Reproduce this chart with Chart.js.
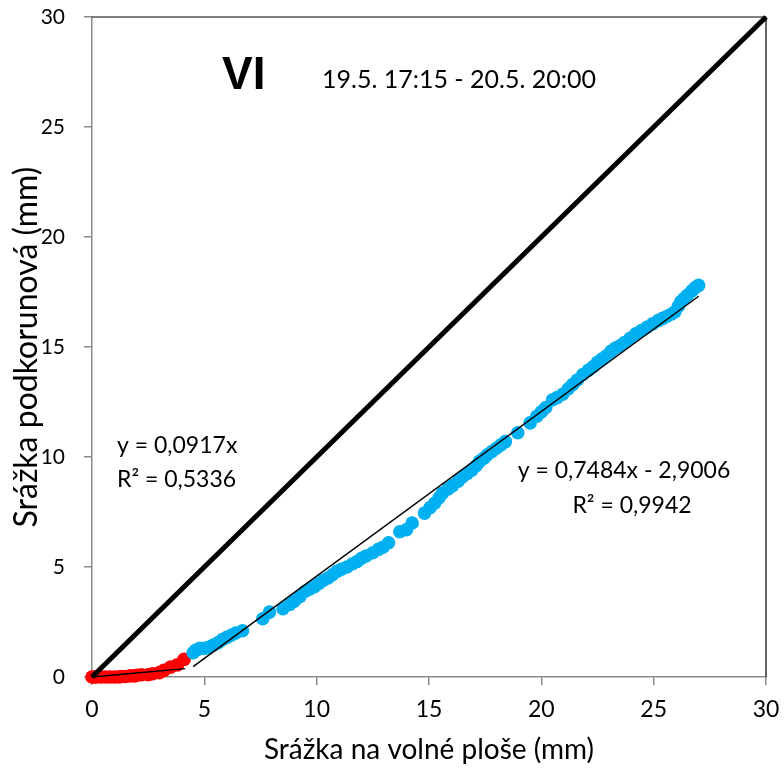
<!DOCTYPE html>
<html>
<head>
<meta charset="utf-8">
<script src="https://cdn.jsdelivr.net/npm/chart.js@4"></script>
<style>
  html, body { margin: 0; padding: 0; background: #fff; }
  #wrap { width: 784px; height: 772px; }
</style>
</head>
<body>
<div id="wrap"><canvas id="c" width="784" height="772"></canvas></div>
<script>
// Rain under the canopy vs. rain in the open, event VI
const axisTicks = [0, 5, 10, 15, 20, 25, 30];

// Early part of the event (red)
const redX = [0, 0.1, 0.2, 0.4, 0.6, 0.8, 1.0, 1.2, 1.3, 1.5, 1.7, 1.9, 2.0, 2.2, 2.5, 2.7, 3.0, 3.2, 3.5, 3.8, 4.1];
const redY = [0, 0, 0, 0, 0, 0, 0, 0, 0.02, 0.02, 0.05, 0.05, 0.08, 0.1, 0.1, 0.15, 0.2, 0.3, 0.45, 0.55, 0.8];

// Main part of the event (blue)
const blueX = [4.5, 4.6, 4.7, 4.8, 5.0, 5.2, 5.4, 5.6, 5.8, 6.0, 6.2, 6.4, 6.7, 7.6, 7.9, 8.5, 8.8, 9.0, 9.25, 9.5,
  9.7, 9.9, 10.1, 10.3, 10.5, 10.7, 10.9, 11.1, 11.35, 11.6, 11.8, 12.0, 12.2, 12.5, 12.75, 12.95, 13.2, 13.7, 14.0, 14.25,
  14.8, 15.05, 15.25, 15.45, 15.6, 15.85, 16.05, 16.3, 16.5, 16.7, 16.9, 17.1, 17.25, 17.45, 17.6, 17.8, 18.0, 18.2, 18.4, 18.95,
  19.5, 19.8, 20.0, 20.2, 20.5, 20.7, 20.95, 21.2, 21.4, 21.6, 21.85, 22.1, 22.3, 22.5, 22.7, 22.9, 23.1, 23.3, 23.5, 23.7,
  23.95, 24.2, 24.45, 24.7, 24.95, 25.2, 25.4, 25.6, 25.8, 25.95, 26.1, 26.2, 26.35, 26.5, 26.7, 26.85, 27.0];
const blueY = [1.1, 1.2, 1.25, 1.3, 1.3, 1.35, 1.45, 1.55, 1.7, 1.8, 1.9, 2.0, 2.1, 2.65, 2.95, 3.1, 3.3, 3.45, 3.65, 3.9,
  4.0, 4.1, 4.25, 4.4, 4.5, 4.65, 4.8, 4.9, 5.0, 5.15, 5.25, 5.4, 5.5, 5.65, 5.8, 5.9, 6.1, 6.6, 6.7, 7.0,
  7.45, 7.7, 7.9, 8.15, 8.35, 8.55, 8.7, 8.9, 9.1, 9.25, 9.4, 9.6, 9.8, 9.95, 10.1, 10.25, 10.4, 10.55, 10.7, 11.1,
  11.55, 11.85, 12.05, 12.25, 12.6, 12.7, 12.85, 13.1, 13.3, 13.5, 13.75, 13.95, 14.1, 14.3, 14.45, 14.6, 14.8, 14.95, 15.05, 15.2,
  15.4, 15.6, 15.75, 15.9, 16.05, 16.2, 16.3, 16.4, 16.5, 16.6, 16.85, 17.05, 17.2, 17.35, 17.55, 17.7, 17.8];

// Linear trends: slope, intercept, x-range
const redTrend = { slope: 0.0917, intercept: 0, from: 0, to: 4.15 };
const blueTrend = { slope: 0.7484, intercept: -2.9006, from: 4.5, to: 27.0 };
// 1:1 reference line
const unitLine = [0, 30];

const eqLabels = {
  red: ['y = 0,0917x', 'R² = 0,5336'],
  blue: ['y = 0,7484x - 2,9006', 'R² = 0,9942']
};
const eventId = 'VI';
const eventPeriod = '19.5. 17:15 - 20.5. 20:00';

const toPoints = (xs, ys) => xs.map((x, i) => ({ x, y: ys[i] }));
const trendPoints = t => [t.from, t.to].map(x => ({ x, y: t.slope * x + t.intercept }));

const FONT = 'Lato, "Open Sans", sans-serif';
const AXIS_GRAY = '#898989';

// frame on the top and right, plus the text annotations
const decor = {
  id: 'decor',
  afterDraw(chart) {
    const { ctx, chartArea: a } = chart;
    ctx.save();
    ctx.strokeStyle = '#000';
    ctx.lineWidth = 1.2;
    ctx.beginPath();
    ctx.moveTo(a.left, a.top);
    ctx.lineTo(a.right, a.top);
    ctx.lineTo(a.right, a.bottom);
    ctx.stroke();

    ctx.fillStyle = '#000';
    ctx.textBaseline = 'alphabetic';
    ctx.textAlign = 'left';
    ctx.font = 'bold 46px "Liberation Sans", Arial, sans-serif';
    ctx.fillText(eventId, 222, 89);
    ctx.font = '25px ' + FONT;
    ctx.fillText(eventPeriod, 322, 88);

    ctx.font = '23px ' + FONT;
    ctx.fillText(eqLabels.red[0], 117, 453);
    ctx.fillText(eqLabels.red[1], 117, 487);
    ctx.textAlign = 'center';
    ctx.fillText(eqLabels.blue[0], 624, 478);
    ctx.fillText(eqLabels.blue[1], 632, 513);
    ctx.restore();
  }
};

new Chart(document.getElementById('c'), {
  type: 'scatter',
  data: {
    datasets: [
      {
        type: 'line', data: trendPoints(redTrend), borderColor: '#000', borderWidth: 1.5,
        pointRadius: 0, fill: false, order: 0
      },
      {
        type: 'line', data: trendPoints(blueTrend), borderColor: '#000', borderWidth: 1.5,
        pointRadius: 0, fill: false, order: 0
      },
      {
        type: 'line', data: unitLine.map(v => ({ x: v, y: v })), borderColor: '#000', borderWidth: 5,
        pointRadius: 0, fill: false, order: 1
      },
      {
        data: toPoints(blueX, blueY), backgroundColor: '#00B0F0', borderColor: '#00B0F0',
        pointRadius: 6.8, borderWidth: 0, order: 2
      },
      {
        data: toPoints(redX, redY), backgroundColor: '#FF0000', borderColor: '#FF0000',
        pointRadius: 6.8, borderWidth: 0, order: 3
      }
    ]
  },
  options: {
    responsive: false,
    animation: false,
    clip: false,
    layout: { padding: { left: 0, top: 17, right: 18, bottom: 0 } },
    plugins: { legend: { display: false }, tooltip: { enabled: false } },
    scales: {
      x: {
        type: 'linear', min: 0, max: 30,
        afterBuildTicks: s => { s.ticks = axisTicks.map(v => ({ value: v })); },
        afterFit: s => { s.height = 95; s.paddingLeft = 0; s.paddingRight = 0; },
        grid: { drawOnChartArea: false, drawTicks: true, tickLength: 8, color: AXIS_GRAY, lineWidth: 1.5 },
        border: { display: true, color: AXIS_GRAY, width: 1.5 },
        ticks: { color: '#000', font: { family: FONT, size: 23 }, padding: 11, maxRotation: 0 },
        title: { display: true, text: 'Srážka na volné ploše (mm)', color: '#000',
          font: { family: FONT, size: 28 }, padding: { top: 4, bottom: 5 } }
      },
      y: {
        type: 'linear', min: 0, max: 30,
        afterBuildTicks: s => { s.ticks = axisTicks.map(v => ({ value: v })); },
        afterFit: s => { s.width = 92; s.paddingTop = 0; s.paddingBottom = 0; },
        grid: { drawOnChartArea: false, drawTicks: true, tickLength: 8, color: AXIS_GRAY, lineWidth: 1.5 },
        border: { display: true, color: AXIS_GRAY, width: 1.5 },
        ticks: { color: '#000', font: { family: FONT, size: 21 }, padding: 19 },
        title: { display: true, text: 'Srážka podkorunová (mm)', color: '#000',
          font: { family: FONT, size: 32 }, padding: { top: 7, bottom: 0 } }
      }
    }
  },
  plugins: [decor]
});
</script>
</body>
</html>
